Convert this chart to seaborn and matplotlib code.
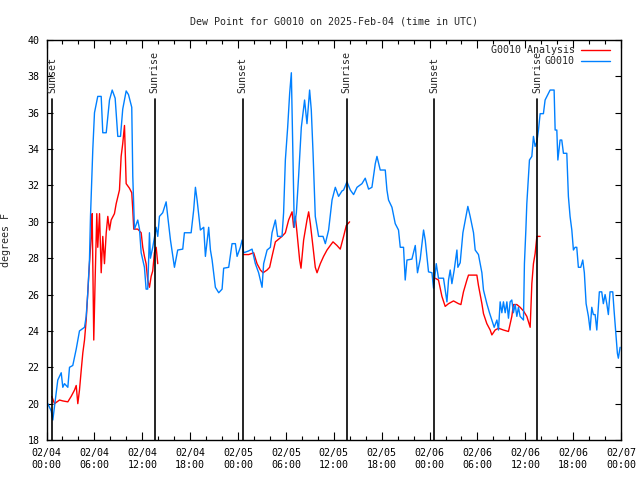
import pandas as pd
import numpy as np
import matplotlib
matplotlib.use("Agg")
import matplotlib.pyplot as plt
import matplotlib.dates as mdates
import matplotlib.transforms as mtransforms
import seaborn as sns

# hours since 2025-02-04 00:00 UTC
start = pd.Timestamp("2025-02-04 00:00")

blue_hours = [0.16, 0.59, 0.79, 1.21, 1.41, 1.84, 2.04, 2.25, 2.67, 2.88, 3.29, 3.72, 4.13, 4.76,
              4.97, 5.17, 5.38, 5.51, 5.80, 6.01, 6.42, 6.85, 7.05, 7.48, 7.89, 8.23, 8.60, 8.93,
              9.27, 9.55, 9.98, 10.27, 10.68, 10.81, 11.02, 11.43, 11.65, 11.86, 12.27, 12.48,
              12.68, 12.90, 13.02, 13.31, 13.74, 13.94, 14.15, 14.56, 14.99, 15.19, 15.53, 16.03,
              16.44, 17.07, 17.28, 18.12, 18.44, 18.66, 18.87, 19.28, 19.70, 19.91, 20.32, 20.54,
              20.75, 21.16, 21.58, 22.00, 22.20, 22.83, 23.25, 23.67, 23.88, 24.29, 24.51, 24.71,
              25.33, 25.76, 26.17, 26.58, 27.01, 27.21, 27.64, 28.05, 28.26, 28.68, 28.96, 29.51,
              29.71, 29.93, 30.22, 30.47, 30.68, 30.89, 31.05, 31.31, 31.59, 31.93, 32.34, 32.64,
              32.97, 33.18, 33.40, 33.68, 34.10, 34.65, 34.94, 35.35, 35.78, 36.19, 36.60, 37.03,
              37.23, 37.65, 38.07, 38.48, 38.91, 39.53, 39.94, 40.36, 40.78, 41.20, 41.41, 41.82,
              42.45, 42.66, 42.86, 43.29, 43.70, 44.11, 44.33, 44.74, 44.95, 45.17, 45.79, 46.21,
              46.49, 46.83, 47.25, 47.46, 47.67, 47.87, 48.30, 48.50, 48.84, 49.12, 49.75, 49.96,
              50.18, 50.38, 50.59, 50.80, 51.09, 51.43, 51.55, 51.84, 52.18, 52.80, 53.09, 53.51,
              53.72, 54.13, 54.56, 54.76, 55.18, 55.51, 55.81, 56.10, 56.44, 56.64, 56.85, 57.06,
              57.26, 57.48, 57.69, 57.89, 58.10, 58.31, 58.51, 58.73, 58.94, 59.14, 59.35, 59.77,
              59.89, 60.07, 60.19, 60.52, 60.82, 61.02, 61.23, 61.45, 61.65, 61.86, 62.27, 62.48,
              62.90, 63.11, 63.61, 63.74, 63.95, 64.08, 64.36, 64.57, 64.78, 65.20, 65.40, 65.61,
              65.83, 66.03, 66.24, 66.45, 66.65, 66.95, 67.20, 67.40, 67.62, 67.91, 68.12, 68.33,
              68.53, 68.75, 68.96, 69.28, 69.58, 69.78, 70.00, 70.21, 70.41, 70.62, 70.96, 71.12,
              71.34, 71.54, 71.66, 71.88]
blue_vals = [20.0, 19.6, 19.1, 20.6, 21.3, 21.7, 20.9, 21.1, 20.9, 22.0, 22.1, 23.0, 24.0, 24.2,
             24.8, 26.1, 27.9, 30.3, 34.0, 36.0, 36.9, 36.9, 34.9, 34.9, 36.7, 37.25, 36.8, 34.7,
             34.7, 36.2, 37.2, 37.0, 36.3, 32.5, 29.6, 30.1, 29.6, 28.3, 27.5, 26.3,
             26.3, 29.4, 28.0, 28.6, 29.7, 29.2, 30.3, 30.5, 31.1, 30.3, 29.0, 27.5,
             28.45, 28.5, 29.4, 29.4, 30.65, 31.9, 31.2, 29.55, 29.7, 28.1, 29.7, 28.45,
             27.9, 26.4, 26.1, 26.3, 27.45, 27.5, 28.8, 28.8, 28.1, 28.6, 29.0, 28.3,
             28.4, 28.5, 27.7, 27.2, 26.4, 27.7, 28.45, 28.6, 29.4, 30.1, 29.2, 29.2,
             30.5, 33.4, 35.2, 37.07, 38.2, 33.4, 29.7, 30.5, 32.5, 35.2, 36.7, 35.4,
             37.25, 36.15, 33.8, 30.3, 29.2, 29.2, 28.8, 29.55, 31.2, 31.9, 31.4, 31.7,
             31.75, 32.2, 31.75, 31.5, 31.9, 32.1, 32.4, 31.8, 31.9, 33.2, 33.6, 32.85,
             32.85, 31.75, 31.2, 30.8, 29.9, 29.55, 28.6, 28.6, 26.8, 27.9, 27.95, 28.7,
             27.2, 27.95, 29.55, 29.0, 28.1, 27.25, 27.2, 26.35, 27.7, 26.9, 26.9, 26.25,
             25.6, 26.8, 27.35, 26.6, 27.35, 28.45, 27.5, 27.75, 29.4, 30.85, 30.3, 29.4,
             28.45, 28.2, 27.2, 26.25, 25.5, 25.0, 24.6, 24.2, 24.6, 24.05, 25.6, 25.0,
             25.6, 25.0, 25.6, 24.7, 25.6, 25.7, 25.0, 25.45, 24.8, 25.3, 24.8, 24.6,
             27.7, 29.55, 31.0, 33.4, 33.6, 34.7, 34.15, 34.4, 35.05, 35.95, 35.95, 36.7,
             37.07, 37.25, 37.25, 35.05, 35.05, 33.4, 34.5, 34.5, 33.77, 33.77, 31.4, 30.3,
             29.55, 28.45, 28.6, 28.6, 27.5, 27.5, 27.9, 27.2, 25.5, 24.8, 24.05, 25.3,
             24.9, 24.9, 24.05, 26.15, 26.15, 25.5, 26.0, 25.5, 24.9, 26.15, 26.15, 25.15,
             23.87, 22.77, 22.5, 23.1]

# analysis series, three separate runs
red1_hours = [0.66, 1.00, 1.63, 2.04, 2.67, 3.09, 3.51, 3.72, 3.92, 4.13, 4.35, 4.55, 4.76, 4.97,
              5.17, 5.38, 5.60, 5.72, 5.92, 6.10, 6.30, 6.42, 6.64, 6.85, 7.05, 7.26, 7.48, 7.68,
              7.89, 8.10, 8.51, 8.73, 9.14, 9.35, 9.55, 9.77, 9.98, 10.39, 10.68, 10.81, 10.93,
              11.43, 11.86, 12.06, 12.27, 12.48, 12.68, 12.90, 13.11, 13.31, 13.52, 13.74, 13.94]
red1_vals = [20.4, 20.0, 20.2, 20.15, 20.1, 20.4, 20.75, 21.0, 20.0, 20.75, 21.85, 22.8, 23.5, 24.6,
             26.1, 27.7, 29.2, 30.45, 23.5, 27.0, 30.45, 28.6, 30.45, 27.2, 29.2, 27.7, 29.4, 30.3,
             29.55, 30.1, 30.45, 31.0, 31.75, 33.6, 34.3, 35.3, 32.1, 31.85, 31.6, 30.65, 29.6,
             29.6, 29.4, 28.6, 28.1, 27.7, 26.8, 26.4, 27.0, 27.3, 28.3, 28.6, 27.7]
red2_hours = [24.71, 25.33, 25.96, 26.38, 26.80, 27.14, 27.64, 27.96, 28.26, 28.68, 28.96, 29.51,
              29.93, 30.34, 30.77, 30.97, 31.18, 31.39, 31.72, 31.89, 32.22, 32.64, 32.85, 33.06,
              33.40, 33.68, 33.90, 34.31, 34.72, 35.15, 35.56, 35.90, 36.40, 36.81, 37.23, 37.57,
              37.98]
red2_vals = [28.2, 28.2, 28.3, 27.7, 27.35, 27.2, 27.35, 27.5, 28.1, 28.9, 29.0, 29.2,
             29.4, 30.1, 30.55, 29.7, 30.3, 29.4, 27.9, 27.45, 29.0, 30.1, 30.55, 29.9,
             28.6, 27.5, 27.2, 27.7, 28.1, 28.45, 28.7, 28.9, 28.7, 28.5, 29.2, 29.8,
             30.0]
red3_hours = [48.71, 49.12, 49.55, 49.96, 50.38, 51.00, 51.63, 51.93, 52.25, 52.68, 52.88, 53.93,
              54.13, 54.56, 54.76, 55.18, 55.60, 55.81, 56.22, 56.64, 57.26, 57.89, 58.31, 58.51,
              58.94, 59.35, 59.77, 60.19, 60.61, 60.82, 61.02, 61.23, 61.45, 61.86]
red3_vals = [26.9, 26.8, 25.9, 25.35, 25.5, 25.65, 25.5, 25.45, 26.15, 26.8, 27.07, 27.07,
             26.5, 25.5, 24.95, 24.4, 24.05, 23.78, 24.05, 24.15, 24.05, 23.97, 24.8, 25.45,
             25.45, 25.3, 25.1, 24.8, 24.2, 26.6, 27.7, 28.25, 29.2, 29.2]

sun_labels = ["Sunset", "Sunrise", "Sunset", "Sunrise", "Sunset", "Sunrise"]
sun_hours = [0.71, 13.56, 24.58, 37.60, 48.62, 61.52]


def to_time(hours):
    return start + pd.to_timedelta(np.array(hours), unit="h")


sns.set_style("ticks")
plt.rcParams['font.family'] = ['DejaVu Sans Mono']
plt.rcParams['font.size'] = 7.2

fig = plt.figure(figsize=(6.4, 4.8), dpi=100)
ax = fig.add_axes([0.0727, 0.0833, 0.8977, 0.8333])

red_color = '#ff0000'
blue_color = '#0080ff'

for i, (hh, vv) in enumerate([(red1_hours, red1_vals), (red2_hours, red2_vals), (red3_hours, red3_vals)]):
    seg = pd.DataFrame({'time': to_time(hh), 'dewpt': vv})
    sns.lineplot(data=seg, x='time', y='dewpt', color=red_color, lw=1, ax=ax,
                 label='G0010 Analysis' if i == 0 else None, legend=False)

blue_df = pd.DataFrame({'time': to_time(blue_hours), 'dewpt': blue_vals})
sns.lineplot(data=blue_df, x='time', y='dewpt', color=blue_color, lw=1, ax=ax,
             label='G0010', legend=False)

# sunrise / sunset markers
trans = mtransforms.blended_transform_factory(ax.transData, ax.transAxes)
for lab, hr in zip(sun_labels, sun_hours):
    t = mdates.date2num(start + pd.Timedelta(hours=hr))
    ax.plot([t, t], [0, 0.8525], color='black', lw=1.2, transform=trans)
    ax.text(t, 0.868, lab, rotation=90, ha='center', va='bottom', transform=trans, fontsize=7.2)

ax.set_xlim(start, start + pd.Timedelta(hours=72))
ax.set_ylim(18, 40)
ax.set_yticks(np.arange(18, 41, 2))
ax.xaxis.set_major_locator(mdates.HourLocator(byhour=range(0, 24, 6)))
ax.xaxis.set_minor_locator(mdates.HourLocator(byhour=range(0, 24, 2)))
ax.xaxis.set_major_formatter(mdates.DateFormatter('%m/%d\n%H:%M'))

ax.tick_params(axis='both', which='both', direction='in', top=True, right=True,
               colors='black', labelsize=7.2, width=0.8)
ax.tick_params(axis='x', which='major', length=6, pad=6)
ax.tick_params(axis='x', which='minor', length=3)
ax.tick_params(axis='y', which='major', length=4, pad=5)
for sp in ax.spines.values():
    sp.set_color('black')
    sp.set_linewidth(1.0)

ax.set_xlabel('')
ax.set_ylabel('degrees F', fontsize=7.2)
ax.yaxis.set_label_coords(-0.062, 0.5)
ax.set_title('Dew Point for G0010 on 2025-Feb-04 (time in UTC)', fontsize=7.2, pad=11)

handles, labels = ax.get_legend_handles_labels()
ax.legend(handles, labels, loc='upper right', bbox_to_anchor=(0.9835, 0.9925),
          frameon=False, markerfirst=False, handlelength=2.9, fontsize=7.2,
          borderaxespad=0.0, labelspacing=0.1, handletextpad=0.6, borderpad=0.2)

plt.savefig('out.png', dpi=100)
plt.close()
